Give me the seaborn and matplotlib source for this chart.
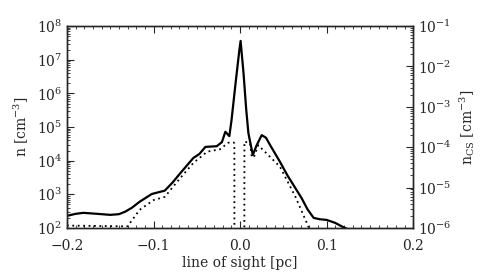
import numpy as np
import pandas as pd
import matplotlib
matplotlib.use("Agg")
import matplotlib.pyplot as plt
import seaborn as sns
from matplotlib.ticker import MultipleLocator, LogLocator, NullFormatter

# solid curve: total density n [cm^-3]
x_n = [-0.200, -0.190, -0.181, -0.165, -0.150, -0.140, -0.133, -0.125, -0.116,
       -0.102, -0.087, -0.078, -0.069, -0.054, -0.047, -0.040, -0.027, -0.021,
       -0.017, -0.0124, -0.0099, -0.005, -0.001, 0.0006, 0.004, 0.007, 0.0096,
       0.0147, 0.019, 0.025, 0.030, 0.035, 0.046, 0.055, 0.064, 0.071, 0.078,
       0.085, 0.092, 0.100, 0.110, 0.118, 0.130]
log_n = [2.36, 2.42, 2.45, 2.42, 2.39, 2.41, 2.48, 2.60, 2.78,
         3.01, 3.11, 3.35, 3.63, 4.08, 4.20, 4.41, 4.43, 4.55,
         4.86, 4.73, 5.20, 6.35, 7.25, 7.56, 6.60, 5.55, 4.82,
         4.17, 4.45, 4.76, 4.68, 4.45, 3.97, 3.55, 3.18, 2.89, 2.55,
         2.30, 2.26, 2.24, 2.15, 2.04, 1.90]

# dotted curve: n_CS [cm^-3] on the right axis
x_cs = [-0.200, -0.130, -0.116, -0.100, -0.087, -0.069, -0.054, -0.038, -0.023,
        -0.014, -0.008, -0.0066, -0.0065, 0.0049, 0.005, 0.0116, 0.0135, 0.016,
        0.021, 0.046, 0.064, 0.079, 0.090, 0.200]
log_cs = [-5.94, -5.96, -5.55, -5.31, -5.23, -4.76, -4.39, -4.11, -4.05,
          -3.89, -3.88, -3.90, -9.0, -9.0, -3.86, -3.90, -4.25, -4.24,
          -3.95, -4.48, -5.23, -5.97, -6.5, -6.5]

df_n = pd.DataFrame({"x": x_n, "n": 10 ** np.array(log_n)})
df_cs = pd.DataFrame({"x": x_cs, "ncs": 10 ** np.array(log_cs)})

sns.set_style("ticks")
plt.rcParams["font.family"] = ["DejaVu Serif"]
plt.rcParams["mathtext.fontset"] = "dejavuserif"
plt.rcParams["axes.unicode_minus"] = True

fig = plt.figure(figsize=(4.85, 2.75), dpi=100)
ax = fig.add_axes([0.138, 0.171, 0.714, 0.734])

sns.lineplot(data=df_n, x="x", y="n", ax=ax, color="black", linewidth=1.6)
ax.set_yscale("log")
ax.set_ylim(1e2, 1e8)
ax.set_xlim(-0.2, 0.2)
ax.xaxis.set_major_locator(MultipleLocator(0.1))
ax.xaxis.set_minor_locator(MultipleLocator(0.01))
ax.set_xticks([-0.2, -0.1, 0.0, 0.1, 0.2])
ax.set_xticklabels(["\u22120.2", "\u22120.1", "0.0", "0.1", "0.2"])
ax.yaxis.set_major_locator(LogLocator(base=10, numticks=10))
ax.yaxis.set_minor_locator(LogLocator(base=10, subs=np.arange(2, 10), numticks=20))
ax.yaxis.set_minor_formatter(NullFormatter())
ax.tick_params(axis="both", which="both", direction="in", top=True, labelsize=10)
ax.tick_params(axis="x", pad=8)
ax.tick_params(which="major", length=5)
ax.tick_params(which="minor", length=2.5)
ax.set_xlabel("line of sight [pc]", fontsize=10, labelpad=2)
ax.set_ylabel("n [cm$^{-3}$]", fontsize=10)

ax2 = ax.twinx()
sns.lineplot(data=df_cs, x="x", y="ncs", ax=ax2, color="black", linewidth=1.3,
             linestyle=(0, (1, 2)))
ax2.set_yscale("log")
ax2.set_ylim(1e-6, 1e-1)
ax2.set_xlim(-0.2, 0.2)
ax2.yaxis.set_major_locator(LogLocator(base=10, numticks=10))
ax2.yaxis.set_minor_locator(LogLocator(base=10, subs=np.arange(2, 10), numticks=20))
ax2.yaxis.set_minor_formatter(NullFormatter())
ax2.tick_params(axis="y", which="both", direction="in", labelsize=10)
ax2.tick_params(which="major", length=5)
ax2.tick_params(which="minor", length=2.5)
ax2.set_ylabel("n$_{\\rm CS}$ [cm$^{-3}$]", fontsize=10)

for a in (ax, ax2):
    for s in a.spines.values():
        s.set_linewidth(1.0)

fig.savefig("out.png", dpi=100)
